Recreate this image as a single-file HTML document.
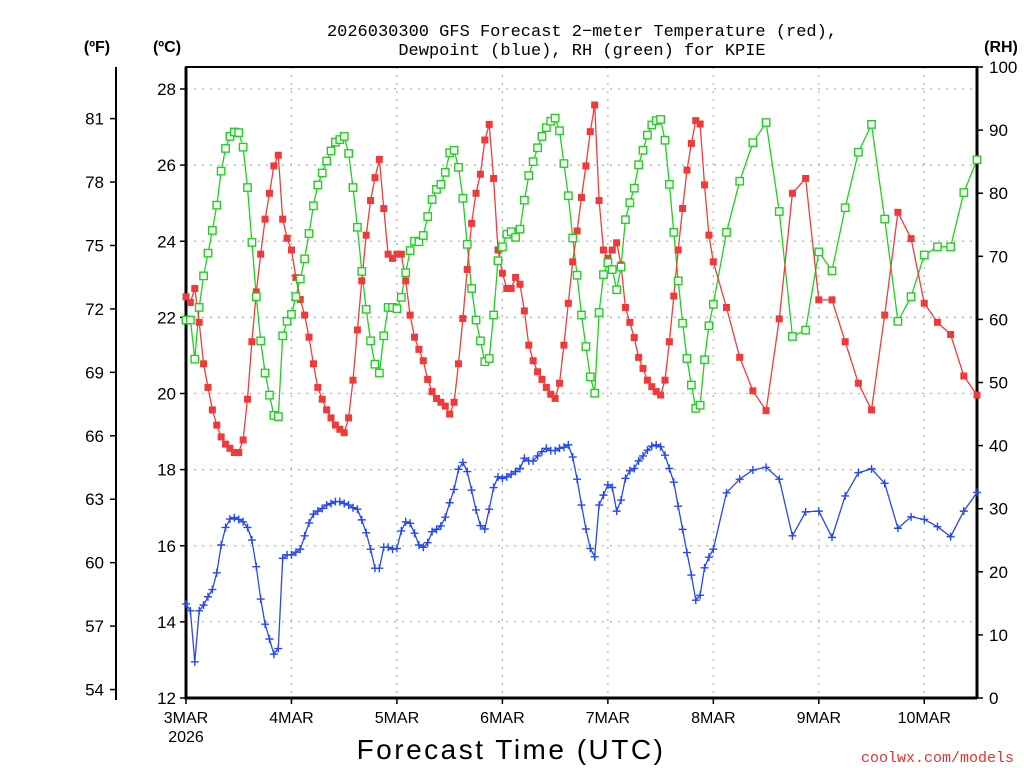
<!DOCTYPE html>
<html><head><meta charset="utf-8"><title>GFS Forecast KPIE</title>
<style>
html,body{margin:0;padding:0;background:#fff;}
svg{display:block;}
text{font-family:"Liberation Sans",sans-serif;fill:#000;}
</style></head>
<body>
<svg id="chart" width="1024" height="768" viewBox="0 0 1024 768" xmlns="http://www.w3.org/2000/svg">
<rect x="0" y="0" width="1024" height="768" fill="#fff"/>
<text x="582" y="36" font-size="17" text-anchor="middle" style="font-family:'Liberation Mono',monospace">2026030300 GFS Forecast 2−meter Temperature (red),</text>
<text x="582" y="55" font-size="17" text-anchor="middle" style="font-family:'Liberation Mono',monospace">Dewpoint (blue), RH (green) for KPIE</text>
<text x="97" y="52" font-size="16" font-weight="bold" text-anchor="middle">(ºF)</text>
<text x="167" y="52" font-size="16" font-weight="bold" text-anchor="middle">(ºC)</text>
<text x="1001" y="52" font-size="16" font-weight="bold" text-anchor="middle">(RH)</text>
<text x="511" y="759" font-size="28" text-anchor="middle" letter-spacing="2.5">Forecast Time (UTC)</text>
<text x="1014" y="762" font-size="15" text-anchor="end" fill="#e83030" style="fill:#e83030;font-family:'Liberation Mono',monospace">coolwx.com/models</text>
<g id="grid"></g>
<g id="axes"></g>
<g id="series"></g>
</svg>
<script>
// ---- data ----
const dayLabels = ["3MAR","4MAR","5MAR","6MAR","7MAR","8MAR","9MAR","10MAR"];
const celsiusTicks = [12,14,16,18,20,22,24,26,28];
const fahrenheitTicks = [54,57,60,63,66,69,72,75,78,81];
const rhTicks = [0,10,20,30,40,50,60,70,80,90,100];
const tempC = [
22.54,22.39,22.76,21.87,20.78,20.16,19.57,19.17,18.86,18.67,
18.56,18.45,18.45,18.78,19.85,21.36,22.67,23.66,24.58,25.26,
25.98,26.26,24.58,24.08,23.77,23.05,22.47,22.06,21.48,20.78,
20.16,19.85,19.57,19.36,19.17,19.06,18.97,19.36,20.35,21.67,
22.96,24.16,25.07,25.67,26.15,24.86,23.66,23.55,23.66,23.66,
22.96,22.06,21.48,21.16,20.86,20.37,20.05,19.87,19.77,19.67,
19.46,19.77,20.78,21.97,23.26,24.47,25.26,25.76,26.66,27.07,
25.65,23.77,23.16,22.76,22.76,23.05,22.87,22.17,21.27,20.86,
20.57,20.37,20.16,19.98,19.87,20.27,21.27,22.37,23.46,24.27,
25.15,25.98,26.88,27.58,25.07,23.77,23.55,23.77,23.96,23.38,
22.26,21.87,21.47,20.95,20.66,20.35,20.18,20.05,19.96,20.35,
21.36,22.56,23.77,24.86,25.87,26.57,27.17,27.08,25.48,24.16,
23.46,
22.26,20.95,20.07,19.55,21.96,25.26,25.65,22.46,22.46,21.36,
20.27,19.57,22.06,24.76,24.07,22.37,21.87,21.55,20.46,19.96];
const dewC = [
14.47,14.29,12.95,14.29,14.44,14.66,14.85,15.29,16.02,16.48,
16.70,16.74,16.69,16.63,16.48,16.15,15.45,14.60,13.94,13.55,
13.15,13.30,15.67,15.76,15.76,15.83,15.91,16.26,16.60,16.83,
16.91,16.98,17.07,17.11,17.16,17.16,17.11,17.07,17.00,16.96,
16.68,16.34,15.91,15.41,15.41,15.96,15.96,15.91,15.93,16.39,
16.63,16.59,16.33,16.02,15.96,16.08,16.37,16.43,16.52,16.75,
17.13,17.48,18.01,18.19,17.95,17.46,16.94,16.53,16.44,16.96,
17.53,17.81,17.77,17.81,17.88,17.95,18.03,18.30,18.23,18.23,
18.36,18.47,18.56,18.50,18.50,18.56,18.59,18.65,18.33,17.75,
17.07,16.44,15.93,15.71,17.07,17.33,17.60,17.53,16.91,17.20,
17.77,17.97,18.03,18.23,18.36,18.51,18.62,18.65,18.60,18.38,
18.03,17.67,17.04,16.43,15.82,15.23,14.57,14.70,15.42,15.70,
15.91,
17.39,17.75,17.99,18.06,17.75,16.26,16.89,16.91,16.22,17.31,
17.92,18.02,17.64,16.46,16.76,16.69,16.50,16.24,16.91,17.40];
const rhPct = [
59.9,59.9,53.7,61.9,66.9,70.5,74.1,78.1,83.5,87.1,
89.0,89.7,89.6,87.3,80.9,72.2,63.6,56.6,51.5,48.0,
44.8,44.6,57.4,59.7,60.8,63.6,66.4,69.6,73.6,78.0,
81.3,83.2,85.1,86.7,88.1,88.5,89.0,86.3,80.9,74.6,
67.6,61.6,56.6,52.9,51.5,57.4,61.9,61.9,61.7,63.5,
67.4,70.9,72.4,72.3,73.3,76.3,79.0,80.6,81.4,83.3,
86.4,86.8,84.1,79.2,71.9,64.9,59.9,56.6,53.3,53.8,
60.7,69.3,71.5,73.5,73.9,73.0,74.3,78.9,82.8,85.0,
87.2,89.0,90.4,91.4,91.9,89.9,84.7,79.6,72.9,67.0,
60.7,55.7,50.9,48.3,61.1,67.1,69.0,67.9,64.7,68.3,
75.8,78.5,80.8,84.5,86.8,89.2,90.8,91.5,91.7,88.4,
81.4,73.8,66.1,59.4,53.8,49.6,45.9,46.4,53.6,59.0,
62.4,
73.8,81.9,88.0,91.2,77.1,57.3,58.3,70.7,67.7,77.7,
86.5,90.9,75.9,59.7,63.6,70.2,71.5,71.5,80.1,85.3];
// forecast hours: hourly to 120, then 3-hourly
const hours = [];
for (let h = 0; h <= 120; h++) hours.push(h);
for (let h = 123; h <= 180; h += 3) hours.push(h);

// ---- scales ----
const X0 = 186, X1 = 977, Y0 = 698, YTOP = 67;
function xScale(h){ return X0 + h * (X1 - X0) / 180; }
function yC(t){ return Y0 - (t - 12) * (Y0 - 89) / 16; }
function yF(f){ return yC((f - 32) * 5 / 9); }
function yRH(r){ return Y0 - r * (Y0 - YTOP) / 100; }

const NS = "http://www.w3.org/2000/svg";
function mk(tag, attrs, parent){
  const e = document.createElementNS(NS, tag);
  for (const k in attrs) e.setAttribute(k, attrs[k]);
  parent.appendChild(e);
  return e;
}
const grid = document.getElementById('grid');
const axes = document.getElementById('axes');
const series = document.getElementById('series');

celsiusTicks.forEach(t => {
  const l = mk('line', {x1:X0, x2:X1, y1:yC(t), y2:yC(t), stroke:'#b0b0b0', 'stroke-width':1.2, 'stroke-dasharray':'2,6'}, grid);
  
  
});
dayLabels.forEach((d, i) => {
  const x = xScale(i * 24);
  if (i > 0) {
    const l = mk('line', {x1:x, x2:x, y1:YTOP, y2:Y0, stroke:'#b0b0b0', 'stroke-width':1.2, 'stroke-dasharray':'2,6'}, grid);
    
    
  }
  const tk = mk('line', {x1:x, x2:x, y1:Y0, y2:Y0 + 6, stroke:'#000', 'stroke-width':1.5}, axes);
  
  
  const tx = mk('text', {x:x, y:723, 'font-size':16, 'text-anchor':'middle'}, axes);
  tx.textContent = d;
  
  
});
const yr = mk('text', {x:X0, y:742, 'font-size':16, 'text-anchor':'middle'}, axes);
yr.textContent = '2026';



const frame = mk('rect', {x:X0, y:YTOP, width:X1 - X0, height:Y0 - YTOP, fill:'none', stroke:'#000', 'stroke-width':2}, axes);


const la = mk('line', {x1:X0, x2:X0, y1:YTOP, y2:Y0 + 1.5, stroke:'#000', 'stroke-width':3}, axes);


const ba = mk('line', {x1:X0, x2:X1, y1:Y0, y2:Y0, stroke:'#000', 'stroke-width':3}, axes);


const ra = mk('line', {x1:X1, x2:X1, y1:YTOP, y2:Y0, stroke:'#000', 'stroke-width':3}, axes);



celsiusTicks.forEach(t => {
  const tk = mk('line', {x1:X0 - 6, x2:X0, y1:yC(t), y2:yC(t), stroke:'#000', 'stroke-width':1.5}, axes);
  
  
  const tx = mk('text', {x:X0 - 10, y:yC(t) + 6, 'font-size':17, 'text-anchor':'end'}, axes);
  tx.textContent = t;
  
  
});
const fa = mk('line', {x1:116, x2:116, y1:YTOP, y2:700, stroke:'#000', 'stroke-width':2}, axes);


fahrenheitTicks.forEach(f => {
  const y = yF(f);
  const tk = mk('line', {x1:110, x2:116, y1:y, y2:y, stroke:'#000', 'stroke-width':1.5}, axes);
  
  
  const tx = mk('text', {x:104, y:y + 6, 'font-size':17, 'text-anchor':'end'}, axes);
  tx.textContent = f;
  
  
});
rhTicks.forEach(r => {
  const y = yRH(r);
  const tk = mk('line', {x1:X1, x2:X1 + 6, y1:y, y2:y, stroke:'#000', 'stroke-width':1.5}, axes);
  
  
  const tx = mk('text', {x:989, y:y + 6, 'font-size':17, 'text-anchor':'start'}, axes);
  tx.textContent = r;
  
  
});

function polyline(vals, yf, color, name){
  const pts = vals.map((v, i) => xScale(hours[i]).toFixed(1) + ',' + yf(v).toFixed(1)).join(' ');
  const p = mk('polyline', {points:pts, fill:'none', stroke:color, 'stroke-width':1.3}, series);
  
  
}
polyline(rhPct, yRH, '#1ed21e', 'rh-line');
polyline(tempC, yC, '#f03c3c', 'temperature-line');
polyline(dewC, yC, '#2848f0', 'dewpoint-line');

tempC.forEach((v, i) => {
  const x = xScale(hours[i]), y = yC(v);
  const r = mk('rect', {x:x - 3.5, y:y - 3.5, width:7, height:7, fill:'#f03a3a'}, series);
  
  
});
rhPct.forEach((v, i) => {
  const x = xScale(hours[i]), y = yRH(v);
  const r = mk('rect', {x:x - 3.7, y:y - 3.7, width:7.4, height:7.4, fill:'#fff', stroke:'#1ed21e', 'stroke-width':1.4}, series);
  
  
});
dewC.forEach((v, i) => {
  const x = xScale(hours[i]), y = yC(v);
  const c = mk('path', {d:'M' + (x - 4) + ' ' + y + 'H' + (x + 4) + 'M' + x + ' ' + (y - 4) + 'V' + (y + 4), stroke:'#2848f0', 'stroke-width':1.4, fill:'none'}, series);
  
  
});
</script>
</body></html>
